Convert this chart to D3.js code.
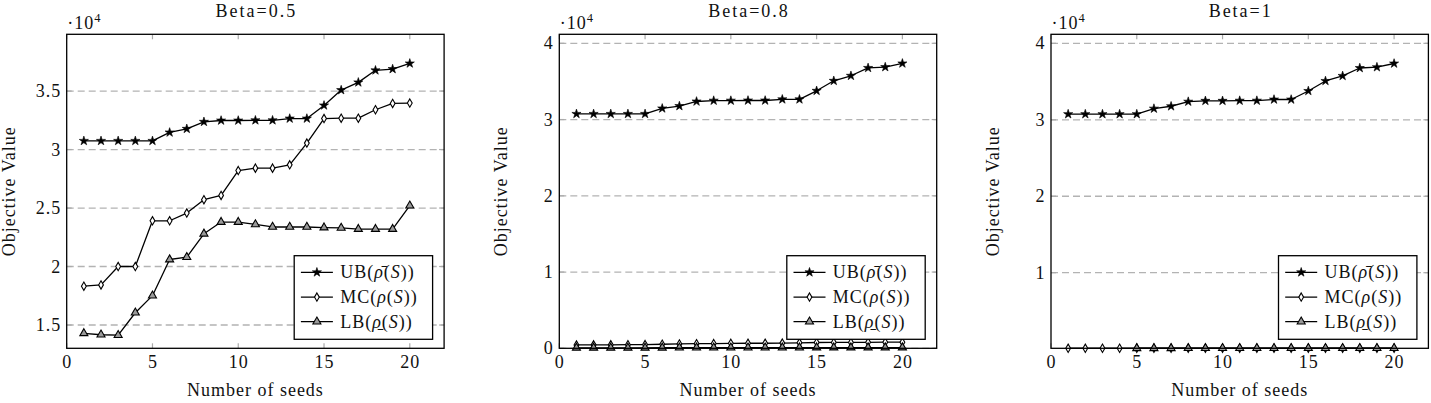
<!DOCTYPE html>
<html><head><meta charset="utf-8">
<script src="https://cdn.jsdelivr.net/npm/d3@7"></script>
<style>
body{margin:0;background:#fff}
svg{display:block}
text{font-family:"Liberation Serif","Times New Roman",serif;fill:#111}
</style>
</head><body>
<svg id="chart" width="1431" height="403"></svg>
<script>
// ---------------- data ----------------
const seeds = [1,2,3,4,5,6,7,8,9,10,11,12,13,14,15,16,17,18,19,20];
const ubValues = [30740,30740,30740,30740,30740,31460,31770,32370,32480,32480,32500,32500,32650,32650,33770,35080,35740,36770,36880,37360];
const mcBeta05 = [18320,18430,20000,20000,23910,23910,24570,25710,26080,28200,28410,28410,28690,30550,32650,32680,32680,33400,33940,33970];
const lbBeta05 = [14290,14170,14130,16050,17510,20600,20800,22800,23800,23800,23600,23380,23380,23380,23330,23300,23200,23200,23200,25200];
const mcBeta08 = [440,450,460,470,490,530,570,600,620,650,660,660,680,720,760,770,770,790,800,800];
const lbBeta08 = [60,60,60,60,65,70,75,80,80,85,85,85,90,90,95,95,95,100,100,100];
const mcBeta1 = [118,118,119,119,120,121,122,123,123,124,124,124,125,126,127,128,128,129,130,130];
const lbBeta1 = [null,null,null,null,118,119,120,121,121,122,122,122,123,124,125,126,126,127,128,128];
const panelTitles = ["Beta=0.5","Beta=0.8","Beta=1"];
const yTicks05 = [15000,20000,25000,30000,35000];
const yTicks08 = [0,10000,20000,30000,40000];
const yTicks1 = [10000,20000,30000,40000];
const yDomains = [[13010,39850],[0,41180],[114,41180]];
const xTicks = [0,5,10,15,20];
const xDomain = [0,22];
const seriesNames = ["UB","MC","LB"];

const panels = [
  {title: panelTitles[0], ub: ubValues, mc: mcBeta05, lb: lbBeta05, yTicks: yTicks05, yDomain: yDomains[0], left: 66.7},
  {title: panelTitles[1], ub: ubValues, mc: mcBeta08, lb: lbBeta08, yTicks: yTicks08, yDomain: yDomains[1], left: 559.3},
  {title: panelTitles[2], ub: ubValues, mc: mcBeta1,  lb: lbBeta1,  yTicks: yTicks1,  yDomain: yDomains[2], left: 1051}
];

// ---------------- drawing ----------------
const svg = d3.select("#chart");
const W = 377.4, plotTop = 34.3, plotBottom = 348.3;
const FS = 18, LS = 1;

const symStar = d3.symbol().type(d3.symbolStar).size(26);
const symDiamond = d3.symbol().type(d3.symbolDiamond).size(20);
const symTriangle = d3.symbol().type(d3.symbolTriangle).size(28);

function drawMarker(g, type, x, y) {
  if (type === "UB") {
    g.append("path").attr("d", symStar()).attr("transform", `translate(${x},${y})`)
      .attr("fill", "#000").attr("stroke", "#000").attr("stroke-width", 0.6);
  } else if (type === "MC") {
    g.append("path").attr("d", symDiamond()).attr("transform", `translate(${x},${y})`)
      .attr("fill", "#fff").attr("stroke", "#000").attr("stroke-width", 1.1);
  } else {
    g.append("path").attr("d", symTriangle()).attr("transform", `translate(${x},${y})`)
      .attr("fill", "#9a9a9a").attr("stroke", "#000").attr("stroke-width", 1.1);
  }
}

panels.forEach((p, i) => {
  const left = p.left, right = left + W;
  const x = d3.scaleLinear().domain(xDomain).range([left, right]);
  const y = d3.scaleLinear().domain(p.yDomain).range([plotBottom, plotTop]);
  const g = svg.append("g");

  // grid
  g.selectAll(".grid").data(p.yTicks).enter().append("line")
    .attr("x1", left).attr("x2", right)
    .attr("y1", d => y(d)).attr("y2", d => y(d))
    .attr("stroke", "#b3b3b3").attr("stroke-width", 1.3).attr("stroke-dasharray", "7,4");

  // x ticks (inside, top & bottom)
  xTicks.forEach(t => {
    g.append("line").attr("x1", x(t)).attr("x2", x(t)).attr("y1", plotBottom).attr("y2", plotBottom - 5)
      .attr("stroke", "#aaa").attr("stroke-width", 1.2);
    g.append("line").attr("x1", x(t)).attr("x2", x(t)).attr("y1", plotTop).attr("y2", plotTop + 5)
      .attr("stroke", "#aaa").attr("stroke-width", 1.2);
    g.append("text").attr("x", x(t) + LS / 2).attr("y", 367.5).attr("text-anchor", "middle")
      .attr("font-size", FS).attr("letter-spacing", LS).text(t);
  });
  // y ticks
  p.yTicks.forEach(t => {
    g.append("line").attr("x1", left).attr("x2", left + 5).attr("y1", y(t)).attr("y2", y(t))
      .attr("stroke", "#aaa").attr("stroke-width", 1.2);
    g.append("line").attr("x1", right).attr("x2", right - 5).attr("y1", y(t)).attr("y2", y(t))
      .attr("stroke", "#aaa").attr("stroke-width", 1.2);
    g.append("text").attr("x", left - 5.5).attr("y", y(t) + 6).attr("text-anchor", "end")
      .attr("font-size", FS).attr("letter-spacing", LS).text(String(t / 10000));
  });

  // series
  const series = [["UB", p.ub], ["MC", p.mc], ["LB", p.lb]];
  const line = d3.line().defined(d => d[1] != null).x(d => x(d[0])).y(d => y(d[1]));
  series.forEach(([name, vals]) => {
    const pts = seeds.map((s, k) => [s, vals[k]]);
    g.append("path").attr("d", line(pts)).attr("fill", "none")
      .attr("stroke", "#000").attr("stroke-width", 1.3).attr("stroke-linejoin", "round");
    pts.filter(d => d[1] != null).forEach(d => drawMarker(g, name, x(d[0]), y(d[1])));
  });

  // frame
  g.append("rect").attr("x", left).attr("y", plotTop).attr("width", W).attr("height", plotBottom - plotTop)
    .attr("fill", "none").attr("stroke", "#000").attr("stroke-width", 1.3);

  // title
  g.append("text").attr("x", (left + right) / 2 + 1).attr("y", 16.7).attr("text-anchor", "middle")
    .attr("font-size", FS).attr("letter-spacing", 2).text(p.title);
  // multiplier
  const m = g.append("text").attr("x", left + 0.5).attr("y", 29).attr("font-size", FS).attr("letter-spacing", LS);
  m.append("tspan").text("·10");
  m.append("tspan").attr("font-size", 12.5).attr("dy", -7).text("4");
  // axis labels
  g.append("text").attr("x", (left + right) / 2).attr("y", 396).attr("text-anchor", "middle")
    .attr("font-size", FS).attr("letter-spacing", LS).text("Number of seeds");
  g.append("text").attr("transform", `translate(${left - 52},${(plotTop + plotBottom) / 2}) rotate(-90)`)
    .attr("text-anchor", "middle").attr("font-size", FS).attr("letter-spacing", LS).text("Objective Value");

  // legend
  const lw = 138.4, lh = 83.6;
  const lx = right - 11.5 - lw, ly = plotBottom - 9 - lh;
  g.append("rect").attr("x", lx).attr("y", ly).attr("width", lw).attr("height", lh)
    .attr("fill", "#fff").attr("stroke", "#000").attr("stroke-width", 1.3);
  const rowY = [plotBottom - 76, plotBottom - 51.2, plotBottom - 26.6];
  const labels = [
    [["UB(", false], ["ρ\u0304", true], ["(", false], ["S", true], ["))", false]],
    [["MC(", false], ["ρ", true], ["(", false], ["S", true], ["))", false]],
    [["LB(", false], ["ρ\u0331", true], ["(", false], ["S", true], ["))", false]]
  ];
  seriesNames.forEach((name, k) => {
    const ry = rowY[k];
    g.append("line").attr("x1", lx + 6.7).attr("x2", lx + 38.7).attr("y1", ry).attr("y2", ry)
      .attr("stroke", "#000").attr("stroke-width", 1.3);
    drawMarker(g, name, lx + 22.7, ry);
    const t = g.append("text").attr("x", lx + 46).attr("y", ry + 6).attr("font-size", FS)
      .attr("letter-spacing", LS);
    labels[k].forEach(([s, it]) => {
      const ts = t.append("tspan").text(s);
      if (it) ts.attr("font-style", "italic");
    });
  });
});
</script>
</body></html>
